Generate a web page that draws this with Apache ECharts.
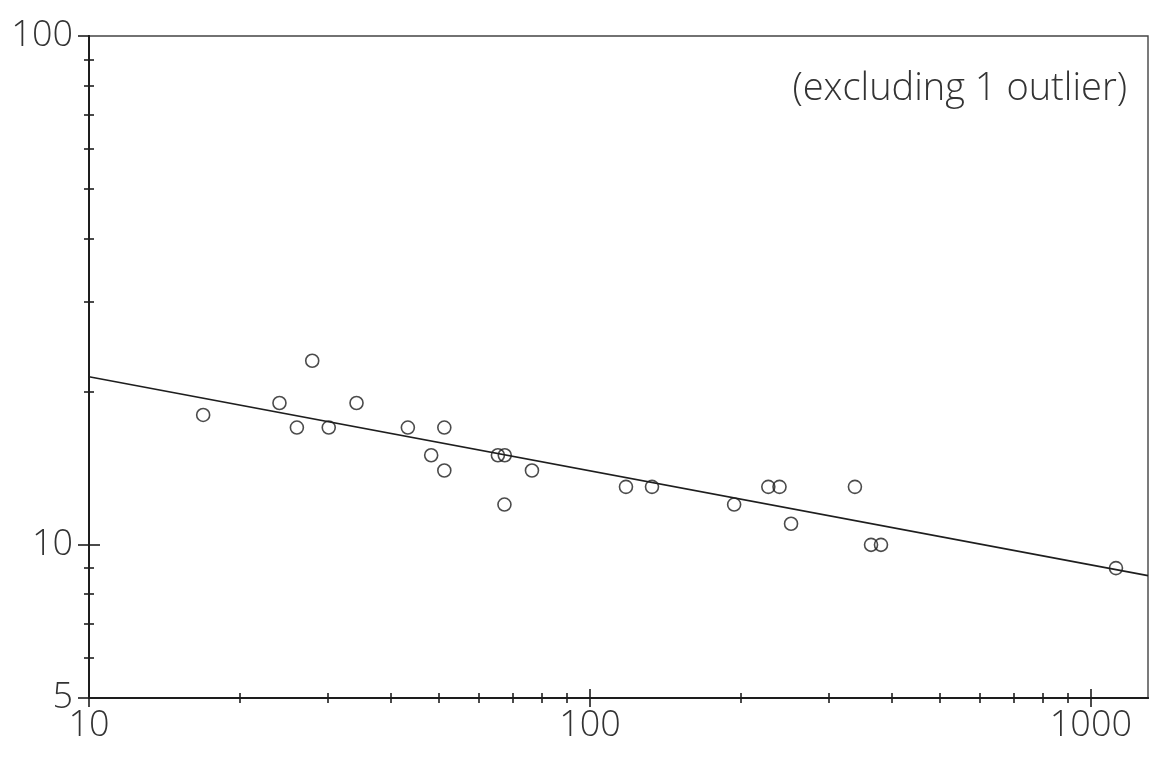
<!DOCTYPE html>
<html>
<head>
<meta charset="utf-8">
<script src="https://cdn.jsdelivr.net/npm/echarts@6/dist/echarts.min.js"></script>
<style>
html,body{margin:0;padding:0;background:#fff;}
#c{width:1152px;height:764px;}
</style>
</head>
<body>
<div id="c"></div>
<script>
// ---- data ----
const pointsX = [16.9, 24, 26, 27.9, 30.1, 34.2, 43.3, 48.2, 51.2, 51.2, 65.5, 67.6, 67.5, 76.6, 118, 133, 194, 227, 239, 252, 338, 364, 381, 1122];
const pointsY = [18, 19, 17, 23, 17, 19, 17, 15, 17, 14, 15, 15, 12, 14, 13, 13, 12, 13, 13, 11, 13, 10, 10, 9];
const fitX = [10, 1300];
const fitY = [21.4, 8.7];
const xMajorTicks = [10, 100, 1000];
const xMinorTicks = [20, 30, 40, 50, 60, 70, 80, 90, 200, 300, 400, 500, 600, 700, 800, 900];
const yMajorTicks = [5, 10, 100];
const yMinorTicks = [6, 7, 8, 9, 20, 30, 40, 50, 60, 70, 80, 90];
const xRange = [10, 1300];
const yRange = [5, 100];
const note = '(excluding 1 outlier)';

const ink = '#1e1e1e';
const font = "'Open Sans'";
const lineStyle = {color: ink, width: 1.6};

function xAxis(ticks, inside, len, labels) {
  return {
    type: 'log', logBase: 10, min: xRange[0], max: xRange[1], position: 'bottom',
    axisLine: {show: true, lineStyle},
    axisTick: {show: true, inside, length: len, customValues: ticks, lineStyle},
    axisLabel: labels ? {show: true, customValues: xMajorTicks, margin: 10,
      formatter: v => String(Math.round(v)), color: '#333', fontFamily: font,
      fontWeight: 300, fontSize: 36} : {show: false},
    splitLine: {show: false}
  };
}
function yAxis(ticks, inside, len, labels) {
  return {
    type: 'log', logBase: 10, min: yRange[0], max: yRange[1], position: 'left',
    axisLine: {show: true, lineStyle},
    axisTick: {show: true, inside, length: len, customValues: ticks, lineStyle},
    axisLabel: labels ? {show: true, customValues: yMajorTicks, margin: 16,
      formatter: v => String(Math.round(v)), color: '#333', fontFamily: font,
      fontWeight: 300, fontSize: 36} : {show: false},
    splitLine: {show: false}
  };
}

const chart = echarts.init(document.getElementById('c'), null, {renderer: 'canvas'});
chart.setOption({
  backgroundColor: '#fff',
  animation: false,
  grid: {left: 89, right: 4, top: 36, bottom: 66, show: true, borderColor: '#444', borderWidth: 1.4, backgroundColor: 'transparent'},
  xAxis: [
    xAxis(xMajorTicks, false, 9, true),
    xAxis(xMajorTicks, true, 9, false),
    xAxis(xMinorTicks, false, 5, false),
    xAxis(xMinorTicks, true, 5, false)
  ],
  yAxis: [
    yAxis(yMajorTicks, false, 11, true),
    yAxis([10], true, 11, false),
    yAxis(yMinorTicks, false, 5, false),
    yAxis(yMinorTicks, true, 5, false)
  ],
  series: [
    {
      type: 'line', data: fitX.map((x, i) => [x, fitY[i]]), symbol: 'none',
      lineStyle: {color: ink, width: 1.6}, xAxisIndex: 0, yAxisIndex: 0, silent: true
    },
    {
      type: 'scatter', data: pointsX.map((x, i) => [x, pointsY[i]]),
      symbol: 'circle', symbolSize: 13,
      itemStyle: {color: 'rgba(255,255,255,0)', borderColor: ink, borderWidth: 1.6},
      xAxisIndex: 0, yAxisIndex: 0
    }
  ],
  graphic: [{
    type: 'text', right: 25, top: 70,
    style: {text: note, fontFamily: font, fontWeight: 300, fontSize: 38, fill: '#333'}
  }]
});
</script>
</body>
</html>
